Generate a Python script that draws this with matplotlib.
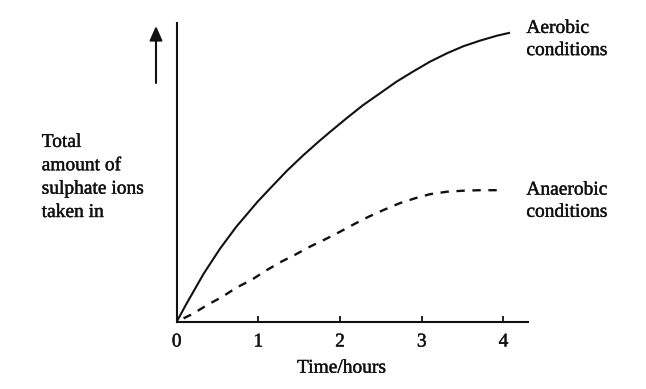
import matplotlib
matplotlib.use('Agg')
import matplotlib.pyplot as plt
import matplotlib.patheffects as pe

# ---- data (y in arbitrary units) ----
time_aerobic = [0, 0.12, 0.33, 0.53, 0.73, 0.99, 1.14, 1.35, 1.55, 1.75, 1.88,
                2.08, 2.28, 2.49, 2.69, 2.90, 3.10, 3.31, 3.51, 3.71, 3.92, 4.08]
uptake_aerobic = [0, 18, 48, 73, 95, 120, 133, 151, 166.5, 181, 190,
                  203.5, 216.5, 228.5, 240, 250.5, 260, 268.5, 275.5, 281, 286, 289]

time_anaerobic = [0, 0.20, 0.38, 0.56, 0.73, 0.92, 1.10, 1.28, 1.45, 1.63, 1.82,
                  2.00, 2.17, 2.35, 2.54, 2.73, 2.92, 3.10, 3.31, 3.51, 3.71, 4.00]
uptake_anaerobic = [0, 8, 17, 25, 34, 42, 51.5, 60, 67, 75, 82.5,
                    90, 97.5, 105, 112, 118.5, 123.5, 127.5, 130, 131, 131.5, 131.5]

x_ticks = [0, 1, 2, 3, 4]
x_tick_labels = ['0', '1', '2', '3', '4']
x_label = 'Time/hours'
y_label = 'Total\namount of\nsulphate ions\ntaken in'
label_aerobic = 'Aerobic\nconditions'
label_anaerobic = 'Anaerobic\nconditions'

plt.rcParams['font.family'] = ['Liberation Serif', 'DejaVu Serif']
plt.rcParams['font.size'] = 14
plt.rcParams['lines.scale_dashes'] = False

W, H = 646, 389
fig = plt.figure(figsize=(W / 100, H / 100), dpi=100)
x0, y0 = 176.7, 321.7
xend, ytop = 528, 23
ppu = 81.7
ax = fig.add_axes([x0 / W, (H - y0) / H, (xend - x0) / W, (y0 - ytop) / H])
ax.set_xlim(0, (xend - x0) / ppu)
ax.set_ylim(0, y0 - ytop)

ink = '#111111'
fs = 14
asc = 13.4  # px from top of text box to first baseline
bold = [pe.withStroke(linewidth=0.3, foreground=ink)]

ax.plot(time_aerobic, uptake_aerobic, color=ink, lw=1.5, solid_capstyle='butt')
ax.plot(time_anaerobic, uptake_anaerobic, color=ink, lw=1.7,
        linestyle=(6, (6, 5.5)), dash_capstyle='butt')

for s in ['top', 'right']:
    ax.spines[s].set_visible(False)
for s in ['left', 'bottom']:
    ax.spines[s].set_linewidth(1.5)
    ax.spines[s].set_color(ink)

ax.set_xticks(x_ticks)
ax.set_xticklabels(x_tick_labels)
ax.set_yticks([])
ax.tick_params(axis='x', direction='in', length=4, width=1.3, pad=8.5,
               labelsize=fs, colors=ink)
for t in ax.get_xticklabels():
    t.set_path_effects(bold)

ax.set_xlabel(x_label, fontsize=fs, va='baseline', color=ink, path_effects=bold)
ax.xaxis.set_label_coords((341.7 - x0) / (xend - x0), (y0 - 372.7) / (y0 - ytop))

fig.text(41.7 / W, 1 - (147.3 - asc) / H, y_label, ha='left', va='top',
         linespacing=1.49, fontsize=fs, color=ink, path_effects=bold)

ax.text(4.28, y0 - 33.3 + asc, label_aerobic, ha='left', va='top',
        linespacing=1.40, fontsize=fs, color=ink, clip_on=False, path_effects=bold)
ax.text(4.28, y0 - 195 + asc, label_anaerobic, ha='left', va='top',
        linespacing=1.40, fontsize=fs, color=ink, clip_on=False, path_effects=bold)

ax.annotate('', xy=(156 / W, 1 - 26 / H), xytext=(156 / W, 1 - 83 / H),
            xycoords='figure fraction', textcoords='figure fraction',
            arrowprops=dict(arrowstyle='-|>,head_length=0.54,head_width=0.24',
                            color=ink, lw=1.5, mutation_scale=16,
                            shrinkA=0, shrinkB=0))

fig.savefig('out.png', dpi=100)
